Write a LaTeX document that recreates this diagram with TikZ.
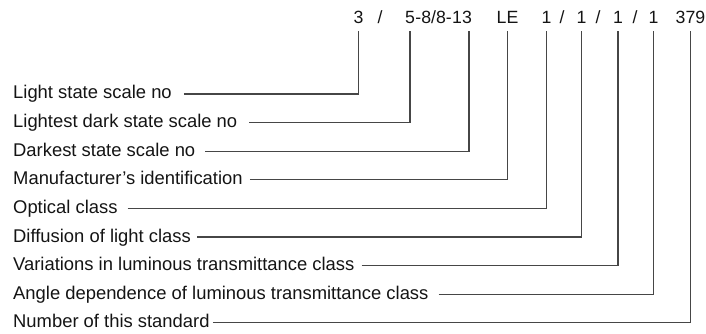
\documentclass[tikz,border=0pt]{standalone}
\usepackage{fontspec}
\setmainfont{Liberation Sans}
\definecolor{linec}{RGB}{70,70,70}
\definecolor{textc}{RGB}{20,20,20}
\begin{document}
\begin{tikzpicture}[x=1pt,y=-1pt,
  lbl/.style={anchor=base west, inner sep=0pt, text height=14pt, text depth=4pt,
              font=\fontsize{18.4}{20}\selectfont, text=textc},
  top/.style={anchor=base, inner sep=0pt, text depth=7pt,
              font=\fontsize{17.7}{20}\selectfont, text=textc},
  conn/.style={draw=linec, line width=1.3pt}]
\useasboundingbox (0,0) rectangle (706,334);

% top designation
\node[top] (t3) at (358.5,24) {3};
\node[top] (s1) at (380,24) {/};
\node[top, anchor=base west] (t5) at (405,24) {5};
\node[top, anchor=base west] (tm) at (t5.base east) {-8/8-};
\node[top, anchor=base west] (t13) at (tm.base east) {13};
\node[top] (tle) at (507.5,24) {LE};
\node[top] (o1) at (546.5,24) {1};
\node[top] (s2) at (562,24) {/};
\node[top] (o2) at (581.5,24) {1};
\node[top] (s3) at (598,24) {/};
\node[top] (o3) at (618,24) {1};
\node[top] (s4) at (635,24) {/};
\node[top] (o4) at (653.5,24) {1};
\node[top] (n379) at (690.5,24) {379};

% labels
\node[lbl] (l1) at (13,99)    {Light state scale no};
\node[lbl] (l2) at (13,127.6) {Lightest dark state scale no};
\node[lbl] (l3) at (13,156.2) {Darkest state scale no};
\node[lbl] (l4) at (13,184.8) {Manufacturer’s identification};
\node[lbl] (l5) at (13,213.4) {Optical class};
\node[lbl] (l6) at (13,242)   {Diffusion of light class};
\node[lbl] (l7) at (13,270.6) {Variations in luminous transmittance class};
\node[lbl] (l8) at (13,299.2) {Angle dependence of luminous transmittance class};
\node[lbl] (l9) at (13,327.8) {Number of this standard};

% connectors
\draw[conn] ([xshift=12pt]l1.east) -| (t3.south);
\draw[conn] ([xshift=12pt]l2.east) -| (t5.south);
\draw[conn] ([xshift=10pt]l3.east) -| ([xshift=-3pt]t13.south east);
\draw[conn] ([xshift=7pt]l4.east) -| (tle.south);
\draw[conn] ([xshift=10pt]l5.east) -| (o1.south);
\draw[conn] ([xshift=6pt]l6.east) -| (o2.south);
\draw[conn] ([xshift=7pt]l7.east) -| (o3.south);
\draw[conn] ([xshift=10pt]l8.east) -| (o4.south);
\draw[conn] ([xshift=3pt]l9.east) -| (n379.south);
\end{tikzpicture}
\end{document}
